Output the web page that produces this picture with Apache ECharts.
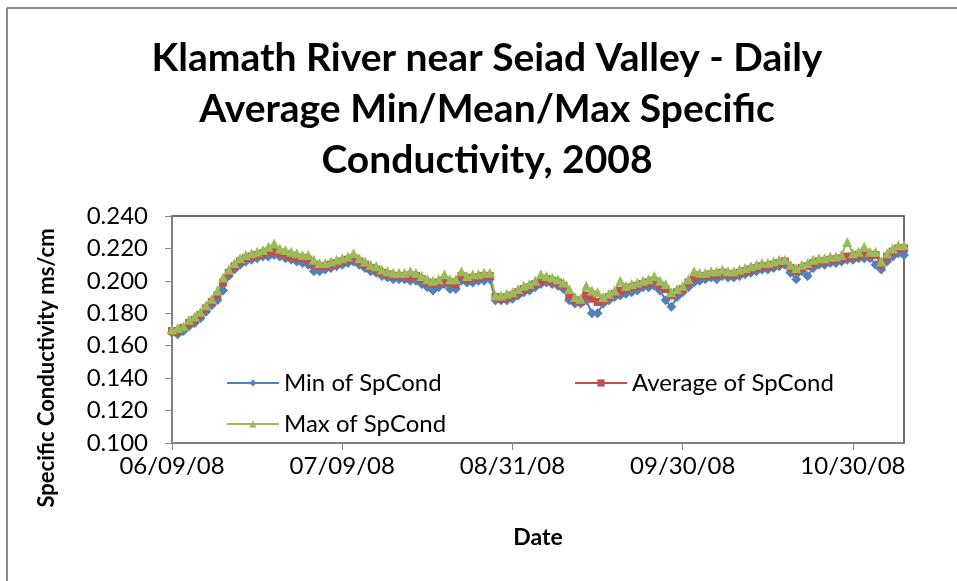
<!DOCTYPE html>
<html>
<head>
<meta charset="utf-8">
<script src="https://cdn.jsdelivr.net/npm/echarts@6/dist/echarts.min.js"></script>
<style>html,body{margin:0;padding:0;background:#fff;}#c{width:957px;height:581px;}</style>
</head>
<body>
<div id="c"></div>
<script>
const categories = [
'06/09/08','06/10/08','06/11/08','06/12/08','06/13/08','06/14/08','06/15/08','06/16/08','06/17/08','06/18/08',
'06/19/08','06/20/08','06/21/08','06/22/08','06/23/08','06/24/08','06/25/08','06/26/08','06/27/08','06/28/08',
'06/29/08','06/30/08','07/01/08','07/02/08','07/03/08','07/04/08','07/05/08','07/06/08','07/07/08','07/08/08',
'07/09/08','07/10/08','07/11/08','07/12/08','07/13/08','07/14/08','07/15/08','07/16/08','07/17/08','07/18/08',
'07/19/08','07/20/08','07/21/08','07/22/08','07/23/08','07/24/08','07/25/08','07/26/08','07/27/08','07/28/08',
'07/29/08','07/30/08','07/31/08','08/01/08','08/02/08','08/03/08','08/04/08','08/28/08','08/29/08','08/30/08',
'08/31/08','09/01/08','09/02/08','09/03/08','09/04/08','09/05/08','09/06/08','09/07/08','09/08/08','09/09/08',
'09/10/08','09/11/08','09/12/08','09/13/08','09/14/08','09/15/08','09/16/08','09/17/08','09/18/08','09/19/08',
'09/20/08','09/21/08','09/22/08','09/23/08','09/24/08','09/25/08','09/26/08','09/27/08','09/28/08','09/29/08',
'09/30/08','10/01/08','10/02/08','10/03/08','10/04/08','10/05/08','10/06/08','10/07/08','10/08/08','10/09/08',
'10/10/08','10/11/08','10/12/08','10/13/08','10/14/08','10/15/08','10/16/08','10/17/08','10/18/08','10/19/08',
'10/20/08','10/21/08','10/22/08','10/23/08','10/24/08','10/25/08','10/26/08','10/27/08','10/28/08','10/29/08',
'10/30/08','10/31/08','11/01/08','11/02/08','11/03/08','11/04/08','11/05/08','11/06/08','11/07/08','11/08/08'
];

const minSpCond = [
.168,.167,.169,.172,.174,.177,.181,.185,.188,.194,
.203,.207,.210,.212,.213,.214,.215,.215,.216,.215,
.214,.213,.212,.211,.210,.206,.206,.207,.208,.209,
.210,.211,.212,.210,.208,.206,.205,.203,.202,.201,
.201,.201,.200,.200,.198,.196,.194,.196,.198,.195,
.195,.200,.199,.199,.200,.200,.201,.188,.188,.188,
.189,.191,.193,.194,.196,.198,.199,.198,.197,.195,
.188,.186,.186,.188,.180,.180,.186,.188,.190,.191,
.192,.193,.194,.196,.196,.197,.194,.188,.184,.190,
.193,.196,.199,.200,.201,.202,.201,.203,.202,.202,
.203,.204,.205,.206,.207,.207,.208,.209,.210,.205,
.201,.206,.203,.208,.210,.210,.211,.211,.212,.213,
.213,.214,.214,.214,.210,.207,.212,.215,.217,.216
];

const avgSpCond = [
.169,.169,.171,.174,.176,.179,.183,.187,.191,.199,
.205,.209,.212,.214,.215,.216,.217,.218,.218,.217,
.216,.215,.214,.214,.213,.210,.209,.209,.210,.211,
.212,.213,.214,.212,.210,.208,.207,.205,.204,.203,
.203,.203,.202,.203,.201,.199,.198,.199,.200,.199,
.198,.203,.201,.202,.202,.203,.203,.190,.189,.190,
.191,.193,.195,.196,.198,.200,.201,.200,.199,.197,
.191,.188,.187,.191,.189,.187,.188,.190,.192,.194,
.195,.196,.197,.198,.199,.200,.197,.195,.191,.193,
.195,.199,.202,.203,.203,.204,.204,.205,.204,.204,
.205,.206,.207,.208,.209,.209,.210,.211,.212,.208,
.206,.208,.209,.211,.212,.212,.213,.213,.214,.215,
.215,.216,.217,.216,.216,.210,.215,.218,.220,.220
];

const maxSpCond = [
.170,.171,.172,.176,.178,.181,.185,.189,.194,.202,
.207,.211,.214,.216,.217,.218,.219,.221,.223,.220,
.219,.218,.217,.216,.216,.213,.211,.211,.212,.213,
.214,.215,.217,.214,.212,.210,.209,.207,.206,.205,
.205,.205,.206,.205,.203,.201,.200,.201,.204,.201,
.201,.206,.203,.204,.204,.205,.205,.191,.191,.192,
.193,.195,.197,.198,.200,.204,.203,.202,.201,.199,
.195,.190,.189,.197,.194,.193,.190,.192,.194,.200,
.197,.198,.199,.200,.201,.203,.200,.198,.193,.195,
.197,.201,.206,.205,.205,.206,.206,.207,.206,.206,
.207,.208,.209,.210,.211,.211,.212,.213,.213,.210,
.208,.210,.211,.213,.214,.214,.215,.215,.216,.224,
.217,.218,.221,.218,.218,.212,.217,.220,.222,.222
];

const yTicks = { min: 0.100, max: 0.240, interval: 0.020 };
const seriesNames = ['Min of SpCond', 'Average of SpCond', 'Max of SpCond'];

const FONT = 'Lato';
const chart = echarts.init(document.getElementById('c'), null, { renderer: 'canvas' });

const legendBase = {
  orient: 'horizontal', itemWidth: 52, itemHeight: 9, itemGap: 8,
  textStyle: { fontFamily: FONT, fontSize: 24, color: '#000' },
  padding: 0, selectedMode: false
};

chart.setOption({
  backgroundColor: '#fff',
  animation: false,
  title: {
    text: 'Klamath River near Seiad Valley - Daily\nAverage Min/Mean/Max Specific\nConductivity, 2008',
    left: 487, top: 33, padding: 0, textAlign: 'center',
    textStyle: { fontFamily: FONT, fontWeight: 'bold', fontSize: 39, lineHeight: 51, color: '#000' }
  },
  legend: [
    Object.assign({}, legendBase, { data: [seriesNames[0]], left: 226, top: 371 }),
    Object.assign({}, legendBase, { data: [seriesNames[1]], left: 574, top: 371 }),
    Object.assign({}, legendBase, { data: [seriesNames[2]], left: 226, top: 412 })
  ],
  grid: {
    left: 172, right: 53, top: 216, bottom: 138,
    show: true, borderColor: '#404040', borderWidth: 1.5, backgroundColor: 'transparent'
  },
  xAxis: {
    type: 'category', data: categories, boundaryGap: false,
    name: 'Date', nameLocation: 'middle', nameGap: 83,
    nameTextStyle: { fontFamily: FONT, fontWeight: 'bold', fontSize: 23, color: '#000' },
    axisLine: { lineStyle: { color: '#868686', width: 1.5 } },
    axisTick: { show: true, interval: 29, length: 7, inside: false, lineStyle: { color: '#868686' } },
    axisLabel: { interval: 29, margin: 11, fontFamily: FONT, fontSize: 24, color: '#000' },
    splitLine: { show: false }
  },
  yAxis: {
    type: 'value', min: yTicks.min, max: yTicks.max, interval: yTicks.interval,
    axisLine: { show: true, lineStyle: { color: '#868686', width: 1.5 } },
    axisTick: { show: true, length: 7, lineStyle: { color: '#868686' } },
    axisLabel: { margin: 24, fontFamily: FONT, fontSize: 24, color: '#000',
      formatter: v => v.toFixed(3) },
    splitLine: { show: false }
  },
  graphic: [
    { type: 'line', shape: { x1: 7, y1: 8, x2: 7, y2: 581 }, style: { stroke: '#8a8a8a', lineWidth: 2 } },
    { type: 'line', shape: { x1: 7, y1: 8, x2: 957, y2: 8 }, style: { stroke: '#8a8a8a', lineWidth: 2 } },
    { type: 'text', x: 47, y: 368, rotation: Math.PI / 2,
      style: { text: 'Specific Conductivity ms/cm', fontFamily: FONT, fontWeight: 'bold', fontSize: 22,
        fill: '#000', textAlign: 'center', textVerticalAlign: 'middle' } }
  ],
  series: [
    { name: seriesNames[0], type: 'line', data: minSpCond, symbol: 'diamond', symbolSize: 10,
      showSymbol: true, showAllSymbol: true,
      itemStyle: { color: '#4F81BD' }, lineStyle: { color: '#4F81BD', width: 2 } },
    { name: seriesNames[1], type: 'line', data: avgSpCond, symbol: 'rect', symbolSize: 8,
      showSymbol: true, showAllSymbol: true,
      itemStyle: { color: '#C0504D' }, lineStyle: { color: '#C0504D', width: 2 } },
    { name: seriesNames[2], type: 'line', data: maxSpCond, symbol: 'triangle', symbolSize: 10,
      showSymbol: true, showAllSymbol: true,
      itemStyle: { color: '#9BBB59' }, lineStyle: { color: '#9BBB59', width: 2 } }
  ]
});
</script>
</body>
</html>
